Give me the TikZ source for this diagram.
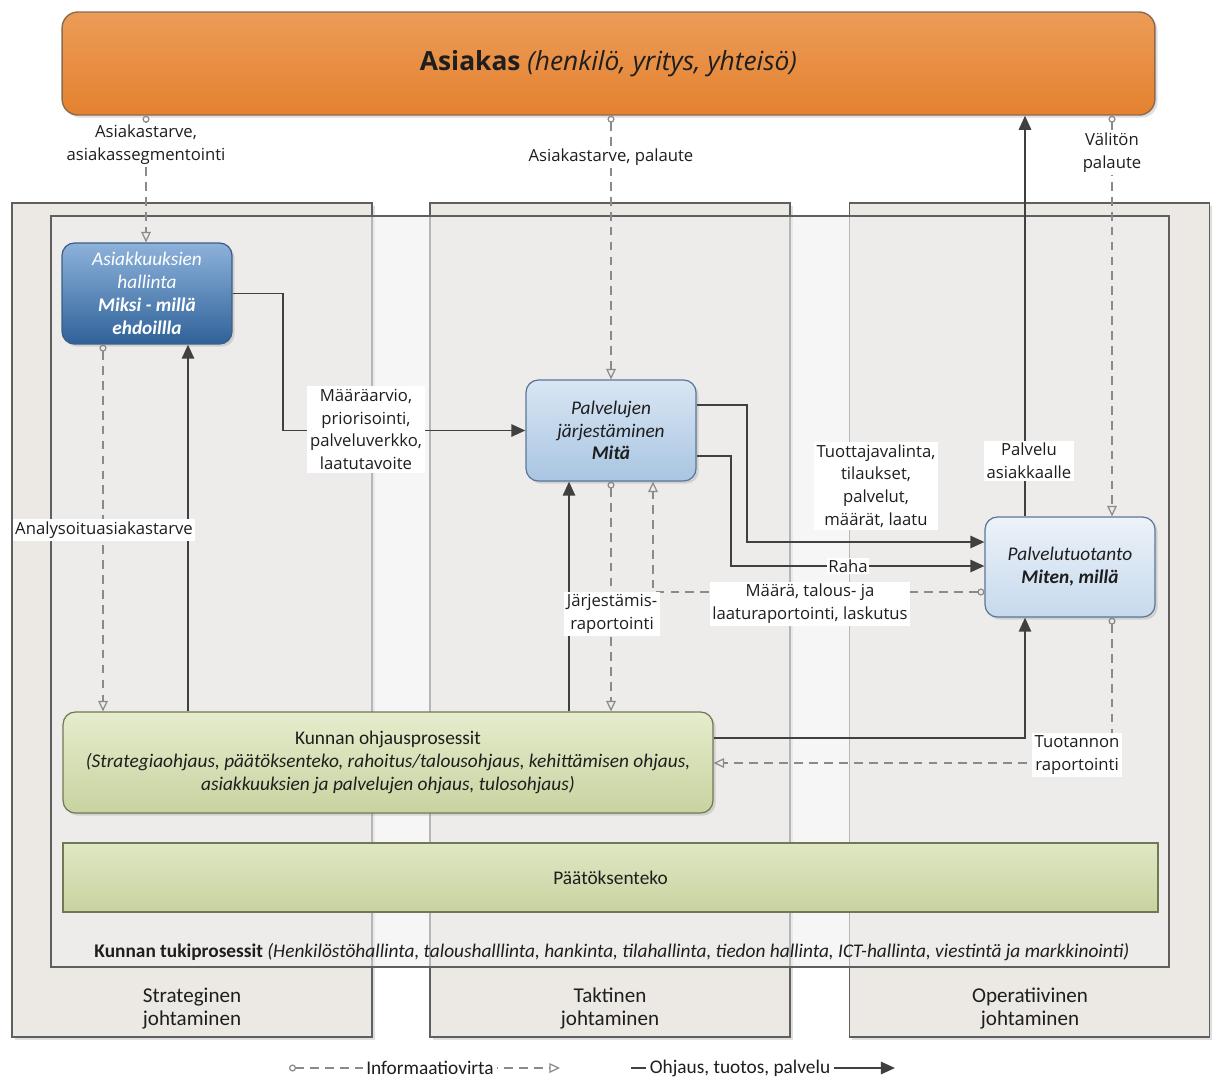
\documentclass[tikz,border=0pt]{standalone}
\usepackage{fontspec}
\setmainfont{Open Sans}
\newfontfamily\calfont{Carlito}
\usetikzlibrary{arrows.meta,shadows}

\definecolor{bannertop}{HTML}{EC9C58}
\definecolor{bannerbot}{HTML}{E4812F}
\definecolor{bannerline}{HTML}{8C6A4E}
\definecolor{panelfill}{HTML}{ECE8E3}
\definecolor{panelline}{HTML}{5F5F5F}
\definecolor{darktop}{HTML}{8DB2DB}
\definecolor{darkbot}{HTML}{2F6299}
\definecolor{darkline}{HTML}{3C5E86}
\definecolor{midtop}{HTML}{D9E6F3}
\definecolor{midbot}{HTML}{A9C5E2}
\definecolor{midline}{HTML}{5B7699}
\definecolor{lighttop}{HTML}{ECF2F9}
\definecolor{lightbot}{HTML}{C6D9EC}
\definecolor{greentop}{HTML}{E6ECCD}
\definecolor{greenbot}{HTML}{C8D3A0}
\definecolor{greenline}{HTML}{6F7A55}
\definecolor{ctrlgray}{HTML}{404040}
\definecolor{infogray}{HTML}{8A8A8A}
\definecolor{textgray}{HTML}{1E1E1E}

\begin{document}
\begin{tikzpicture}[x=0.02cm, y=-0.02cm,
    shade/.style={drop shadow={opacity=0.25, shadow xshift=1.5pt, shadow yshift=-1.5pt}},
    panel/.style={draw=panelline, fill=panelfill, line width=0.7pt, minimum width=7.2cm, minimum height=16.68cm, shade},
    frame/.style={draw=panelline, fill=black!6, fill opacity=0.6, line width=0.7pt, minimum width=22.36cm, minimum height=15.02cm},
    banner/.style={draw=bannerline, top color=bannertop, bottom color=bannerbot, rounded corners=9pt, line width=0.8pt, minimum width=21.86cm, minimum height=2.06cm, font=\fontsize{15}{18}\selectfont, text=textgray, shade},
    procbox/.style={rounded corners=7pt, line width=0.7pt, minimum width=3.4cm, minimum height=2.02cm, align=center, font=\calfont\fontsize{11}{13}\selectfont, shade},
    darkbox/.style={procbox, draw=darkline, top color=darktop, bottom color=darkbot, text=white},
    midbox/.style={procbox, draw=midline, top color=midtop, bottom color=midbot, text=textgray},
    lightbox/.style={procbox, draw=midline, top color=lighttop, bottom color=lightbot, text=textgray, minimum height=2cm},
    greenbox/.style={procbox, draw=greenline, top color=greentop, bottom color=greenbot, text=textgray, minimum width=13cm},
    greenbar/.style={draw=greenline, top color=greentop!80!greenbot, bottom color=greenbot, line width=0.7pt, minimum width=21.9cm, minimum height=1.38cm, font=\calfont\fontsize{11}{13}\selectfont, text=textgray},
    lbl/.style={fill=white, align=center, inner sep=1.5pt, font=\fontsize{9.5}{13}\selectfont, text=textgray},
    caltext/.style={align=center, font=\calfont\fontsize{12}{13}\selectfont, text=textgray},
    legendlbl/.style={caltext, font=\calfont\fontsize{11}{13}\selectfont, fill=white, inner sep=2pt},
    ctrl/.style={draw=ctrlgray, line width=1.1pt, -{Triangle[length=8pt, width=7pt]}},
    info/.style={draw=infogray, line width=0.7pt, dash pattern=on 5pt off 3.5pt, {Circle[open, length=4pt]}-{Triangle[open, length=6pt, width=5.5pt]}}]

\useasboundingbox (0,0) rectangle (1216,1079);

% johtamisen tasot
\node[panel] (strat) at (192,620) {};
\node[panel] (takt) at (610,620) {};
\node[panel] (oper) at (1029.5,620) {};
\node[frame] (tuki) at (610,591.5) {};

\node[caltext] (stratlbl) at (192,1008.5) {Strateginen\\johtaminen};
\node[caltext] (taktlbl) at (610,1008.5) {Taktinen\\johtaminen};
\node[caltext] (operlbl) at (1030,1008.5) {Operatiivinen\\johtaminen};
\node[caltext, font=\calfont\fontsize{11}{13}\selectfont] (tukilbl) at (612,952) {\textbf{Kunnan tukiprosessit} \textit{(Henkilöstöhallinta, taloushalllinta, hankinta, tilahallinta, tiedon hallinta, ICT-hallinta, viestintä ja markkinointi)}};

% asiakas ja prosessit
\node[banner] (asiakas) at (608.5,63.5) {\textbf{Asiakas} \textit{(henkilö, yritys, yhteisö)}};
\node[darkbox] (asiakkuus) at (147,293.5) {\textit{Asiakkuuksien}\\\textit{hallinta}\\\textbf{\textit{Miksi - millä}}\\\textbf{\textit{ehdoillla}}};
\node[midbox] (jarj) at (611,430.5) {\textit{Palvelujen}\\\textit{järjestäminen}\\\textbf{\textit{Mitä}}};
\node[lightbox] (tuot) at (1070,567) {\textit{Palvelutuotanto}\\\textbf{\textit{Miten, millä}}};
\node[greenbox] (ohjaus) at (388,762.5) {Kunnan ohjausprosessit\\\textit{(Strategiaohjaus, päätöksenteko, rahoitus/talousohjaus, kehittämisen ohjaus,}\\\textit{asiakkuuksien ja palvelujen ohjaus, tulosohjaus)}};
\node[greenbar] (paatos) at (610.5,877.5) {Päätöksenteko};

% informaatiovirrat
\draw[info] (asiakas.south -| 146,0) -- (asiakkuus.north -| 146,0);
\draw[info] (asiakas.south -| jarj.north) -- (jarj.north);
\draw[info] (asiakas.south -| 1112,0) -- (tuot.north -| 1112,0);
\draw[info] (asiakkuus.south -| 103,0) -- (ohjaus.north -| 103,0);
\draw[info] (jarj.south) -- (ohjaus.north -| jarj.south);
\draw[info] (tuot.west |- 0,592) -| (jarj.south -| 653,0);
\draw[info] (tuot.south -| 1112,0) |- (ohjaus.east |- 0,763);

% ohjaus, tuotos, palvelu
\draw[ctrl] (tuot.north -| 1025,0) -- (asiakas.south -| 1025,0);
\draw[ctrl] (asiakkuus.east) -| (jarj.west -| 283,0) -- (jarj.west);
\draw[ctrl] (ohjaus.north -| 188,0) -- (asiakkuus.south -| 188,0);
\draw[ctrl] (ohjaus.north -| 569,0) -- (jarj.south -| 569,0);
\draw[ctrl] (jarj.east |- 0,405) -| (747,542) -- (tuot.west |- 0,542);
\draw[ctrl] (jarj.east |- 0,456) -| (731,566) -- (tuot.west |- 0,566);
\draw[ctrl] (ohjaus.east |- 0,738) -| (tuot.south -| 1025,0);

% nuolten tekstit
\node[lbl] (tarve1) at (146,145) {Asiakastarve,\\asiakassegmentointi};
\node[lbl] (tarve2) at (611,157) {Asiakastarve, palaute};
\node[lbl] (valiton) at (1112,152.5) {Välitön\\palaute};
\node[lbl] (palvelu) at (1029,461) {Palvelu\\asiakkaalle};
\node[lbl] (maara) at (366,429.5) {Määräarvio,\\priorisointi,\\palveluverkko,\\laatutavoite};
\node[lbl] (analyysi) at (104,530) {Analysoituasiakastarve};
\node[lbl] (tilaus) at (876,486) {Tuottajavalinta,\\tilaukset,\\palvelut,\\määrät, laatu};
\node[lbl, inner sep=1pt] (raha) at (848,566) {Raha};
\node[lbl] (raportti) at (810,604) {Määrä, talous- ja\\laaturaportointi, laskutus};
\node[lbl] (jarjrap) at (612,614) {Järjestämis-\\raportointi};
\node[lbl] (tuotrap) at (1077,755) {Tuotannon\\raportointi};

% selite
\coordinate (infoA) at (289,1068);
\coordinate (infoB) at (560,1068);
\draw[info] (infoA) -- (infoB);
\node[legendlbl] (infolbl) at (430,1068) {Informaatiovirta};
\coordinate (ctrlA) at (631,1068);
\coordinate (ctrlB) at (895,1068);
\draw[ctrl] (ctrlA) -- (ctrlB);
\node[legendlbl] (ctrllbl) at (740,1068) {Ohjaus, tuotos, palvelu};
\end{tikzpicture}
\end{document}
